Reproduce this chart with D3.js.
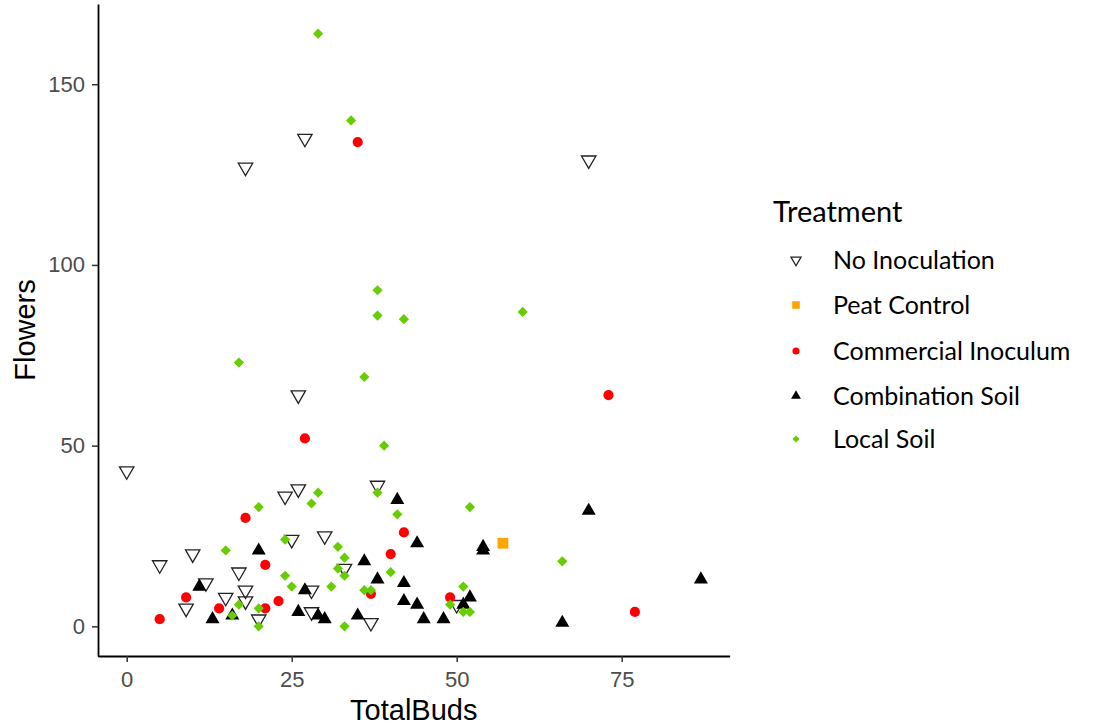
<!DOCTYPE html>
<html>
<head>
<meta charset="utf-8">
<script src="https://cdn.jsdelivr.net/npm/d3@7"></script>
<style>
  html, body { margin: 0; padding: 0; background: #fff; }
  svg { display: block; }
</style>
</head>
<body>
<svg id="chart" width="1094" height="727"></svg>
<script>
// ---- data (TotalBuds, Flowers) per treatment ----
const treatments = ["No Inoculation", "Peat Control", "Commercial Inoculum", "Combination Soil", "Local Soil"];

const noInoculation = [
  [0,43],[5,17],[10,20],[12,12],[17,15],[18,10],[15,8],[18,7],[9,5],[20,2],
  [24,36],[26,38],[25,24],[28,10],[28,4],[30,25],[33,16],[38,39],[37,1],[50,6],
  [26,64],[18,127],[27,135],[70,129]
];
const peatControl = [[57,23]];
const commercialInoculum = [
  [5,2],[9,8],[14,5],[18,30],[21,17],[21,5],[23,7],[27,52],[35,134],[37,9],
  [40,20],[42,26],[49,8],[73,64],[77,4]
];
const combinationSoil = [
  [20,21],[11,11],[27,10],[26,4],[29,3],[30,2],[13,2],[16,3],[41,35],[44,23],
  [54,22],[54,21],[36,18],[38,13],[42,12],[52,8],[51,6],[42,7],[44,6],[45,2],
  [48,2],[35,3],[70,32],[87,13],[66,1]
];
const localSoil = [
  [29,164],[34,140],[38,93],[38,86],[42,85],[60,87],[17,73],[36,69],[39,50],[20,33],
  [28,34],[29,37],[24,24],[15,21],[24,14],[25,11],[17,6],[20,5],[16,3],[20,0],
  [38,37],[41,31],[52,33],[32,22],[33,19],[32,16],[33,14],[40,15],[31,11],[36,10],
  [37,10],[51,11],[49,6],[51,4],[52,4],[33,0],[66,18]
];
const seriesData = [noInoculation, peatControl, commercialInoculum, combinationSoil, localSoil];

const xTicks = [0, 25, 50, 75];
const yTicks = [0, 50, 100, 150];

// ---- styles ----
const colors = ["#000000", "#FFA500", "#FF0000", "#000000", "#66CD00"];
const shapes = ["triDownOpen", "square", "circle", "triUp", "diamond"];

const svg = d3.select("#chart");

// ggplot-like expansion (5%)
const xExt = d3.extent(seriesData.flat(), d => d[0]);
const yExt = d3.extent(seriesData.flat(), d => d[1]);
const xPad = (xExt[1] - xExt[0]) * 0.05;
const yPad = (yExt[1] - yExt[0]) * 0.05;

const panel = { left: 98, right: 729.6, top: 4, bottom: 656 };

const x = d3.scaleLinear().domain([xExt[0] - xPad, xExt[1] + xPad]).range([panel.left, panel.right]);
const y = d3.scaleLinear().domain([yExt[0] - yPad, yExt[1] + yPad]).range([panel.bottom, panel.top]);

// ---- shape paths (size = scale factor) ----
function shapePath(type, s) {
  const p = d3.path();
  if (type === "triDownOpen" || type === "triDown") {
    const xc = 7.2 * s, r = xc / 0.866;
    p.moveTo(-xc, -r / 2); p.lineTo(xc, -r / 2); p.lineTo(0, r); p.closePath();
  } else if (type === "triUp") {
    const xc = 7.0 * s, r = xc / 0.866;
    p.moveTo(-xc, r / 2); p.lineTo(xc, r / 2); p.lineTo(0, -r); p.closePath();
  } else if (type === "square") {
    const h = 5.4 * s;
    p.rect(-h, -h, 2 * h, 2 * h);
  } else if (type === "circle") {
    p.arc(0, 0, 5.1 * s, 0, 2 * Math.PI);
  } else if (type === "diamond") {
    const h = 5.1 * s;
    p.moveTo(0, -h); p.lineTo(h, 0); p.lineTo(0, h); p.lineTo(-h, 0); p.closePath();
  }
  return p.toString();
}
function styleShape(sel, i) {
  if (shapes[i] === "triDownOpen") {
    sel.attr("fill", "none").attr("stroke", "#222").attr("stroke-width", 1.3);
  } else {
    sel.attr("fill", colors[i]).attr("stroke", "none");
  }
}

// ---- points ----
const gPts = svg.append("g");
seriesData.forEach((data, i) => {
  gPts.append("g").selectAll("path").data(data).join("path")
    .attr("d", shapePath(shapes[i], 1))
    .attr("transform", d => `translate(${x(d[0])},${y(d[1])})`)
    .call(styleShape, i);
});

// ---- axes ----
const xAxis = svg.append("g").attr("transform", `translate(0,${panel.bottom})`)
  .call(d3.axisBottom(x).tickValues(xTicks).tickSize(6).tickSizeOuter(0).tickPadding(9));
const yAxis = svg.append("g").attr("transform", `translate(${panel.left},0)`)
  .call(d3.axisLeft(y).tickValues(yTicks).tickSize(6).tickSizeOuter(0).tickPadding(7));

[xAxis, yAxis].forEach(a => {
  a.select(".domain").attr("stroke", "#000").attr("stroke-width", 1.8);
  a.selectAll(".tick line").attr("stroke", "#333").attr("stroke-width", 1.5);
  a.selectAll(".tick text").attr("fill", "#4D4D4D")
    .style("font-family", "'Liberation Sans', Arial, sans-serif").style("font-size", "22px");
});
svg.append("line").attr("x1", panel.left).attr("x2", panel.left + 1)
  .attr("y1", panel.bottom).attr("y2", panel.bottom).attr("stroke", "#000").attr("stroke-width", 1.8);

// ---- axis titles ----
svg.append("text").text("TotalBuds")
  .attr("x", (panel.left + panel.right) / 2).attr("y", 720)
  .attr("text-anchor", "middle").attr("fill", "#000")
  .style("font-family", "'Liberation Sans', Arial, sans-serif").style("font-size", "29px");
svg.append("text").text("Flowers")
  .attr("transform", `translate(35,${(panel.top + panel.bottom) / 2}) rotate(-90)`)
  .attr("text-anchor", "middle").attr("fill", "#000")
  .style("font-family", "'Liberation Sans', Arial, sans-serif").style("font-size", "29px");

// ---- legend ----
const legend = svg.append("g");
legend.append("text").text("Treatment").attr("x", 773).attr("y", 222)
  .attr("fill", "#000").style("font-family", "Lato, 'Open Sans', sans-serif").style("font-size", "29px");
const legendY = [260, 305, 351, 396, 439];
treatments.forEach((t, i) => {
  const gi = legend.append("g").attr("transform", `translate(0,${legendY[i]})`);
  gi.append("path").attr("d", shapePath(shapes[i], 0.7))
    .attr("transform", "translate(796,0)").call(styleShape, i);
  gi.append("text").text(t).attr("x", 833).attr("y", 0).attr("dy", "0.35em")
    .attr("fill", "#000").style("font-family", "Lato, 'Open Sans', sans-serif").style("font-size", "25px");
});
</script>
</body>
</html>
